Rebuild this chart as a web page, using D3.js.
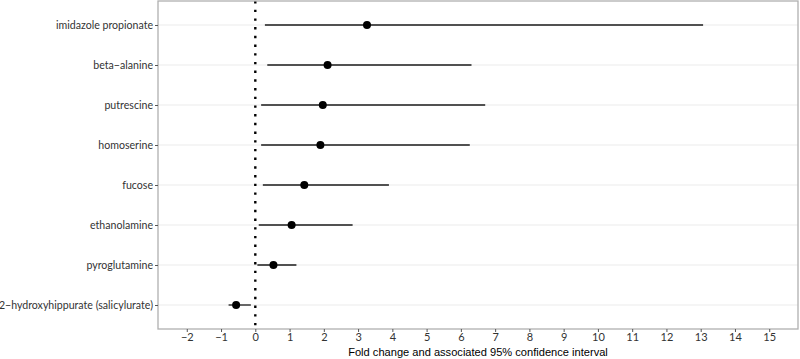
<!DOCTYPE html>
<html>
<head>
<meta charset="utf-8">
<script src="https://cdn.jsdelivr.net/npm/d3@7"></script>
<style>
  body { margin: 0; background: #fff; }
</style>
</head>
<body>
<div id="chart"></div>
<script>
// metabolites, top to bottom
const metabolites = [
    "imidazole propionate",
    "beta\u2212alanine",
    "putrescine",
    "homoserine",
    "fucose",
    "ethanolamine",
    "pyroglutamine",
    "2\u2212hydroxyhippurate (salicylurate)"
];
// fold change and 95% CI
const foldChange = [3.26, 2.11, 1.97, 1.90, 1.43, 1.06, 0.53, -0.56];
const ciLow      = [0.28, 0.35, 0.17, 0.17, 0.22, 0.10, 0.06, -0.78];
const ciHigh     = [13.07, 6.31, 6.71, 6.26, 3.90, 2.84, 1.20, -0.13];
const xTicks = d3.range(-2, 16);

const data = metabolites.map((m, i) => ({
    name: m, fc: foldChange[i], lo: ciLow[i], hi: ciHigh[i]
}));

const W = 800, H = 359;
const margin = { top: 1, right: 2, bottom: 30, left: 158 };
const width = W - margin.left - margin.right,
      height = H - margin.top - margin.bottom;

const svg = d3.select("#chart").append("svg")
    .attr("width", W)
    .attr("height", H);

const g = svg.append("g")
    .attr("transform", `translate(${margin.left},${margin.top})`);

const x = d3.scaleLinear()
    .domain([-2.84, 15.84])
    .range([0, width]);

const y = d3.scalePoint()
    .domain(metabolites)
    .range([0, height])
    .padding(0.6);

// grid lines (horizontal only)
g.selectAll(".grid")
    .data(metabolites)
    .enter()
    .append("line")
    .attr("x1", 0)
    .attr("x2", width)
    .attr("y1", d => y(d))
    .attr("y2", d => y(d))
    .attr("stroke", "#ebebeb")
    .attr("stroke-width", 1);

// dotted zero line
g.append("line")
    .attr("x1", x(0)).attr("x2", x(0))
    .attr("y1", 0).attr("y2", height)
    .attr("stroke", "#000")
    .attr("stroke-width", 2.4)
    .attr("stroke-dasharray", "2.4 6.3");

// confidence intervals
g.selectAll(".ci")
    .data(data)
    .enter()
    .append("line")
    .attr("x1", d => x(d.lo))
    .attr("x2", d => x(d.hi))
    .attr("y1", d => y(d.name))
    .attr("y2", d => y(d.name))
    .attr("stroke", "#1a1a1a")
    .attr("stroke-width", 1.3);

// points
g.selectAll(".pt")
    .data(data)
    .enter()
    .append("circle")
    .attr("cx", d => x(d.fc))
    .attr("cy", d => y(d.name))
    .attr("r", 4)
    .attr("fill", "#000");

// panel border
g.append("rect")
    .attr("x", 0).attr("y", 0)
    .attr("width", width).attr("height", height)
    .attr("fill", "none")
    .attr("stroke", "#b0b0b0")
    .attr("stroke-width", 1.3);

// y axis
const yAxis = g.append("g")
    .call(d3.axisLeft(y).tickSize(3).tickPadding(2));
yAxis.select(".domain").remove();
yAxis.selectAll("line").attr("stroke", "#555");
yAxis.selectAll("text")
    .style("font-family", "Lato, sans-serif")
    .style("font-size", "10.6px")
    .attr("fill", "#333");

// x axis
const xAxis = g.append("g")
    .attr("transform", `translate(0,${height})`)
    .call(d3.axisBottom(x).tickValues(xTicks).tickSize(3).tickPadding(1)
        .tickFormat(d => d < 0 ? "\u2212" + Math.abs(d) : d));
xAxis.select(".domain").remove();
xAxis.selectAll("line").attr("stroke", "#555");
xAxis.selectAll("text")
    .style("font-family", "Lato, sans-serif")
    .style("font-size", "11px")
    .attr("fill", "#333");

// x axis title
svg.append("text")
    .attr("x", margin.left + width / 2)
    .attr("y", 355.5)
    .attr("text-anchor", "middle")
    .style("font-family", "'Liberation Sans', Arial, sans-serif")
    .style("font-size", "11.1px")
    .attr("fill", "#000")
    .text("Fold change and associated 95% confidence interval");
</script>
</body>
</html>
